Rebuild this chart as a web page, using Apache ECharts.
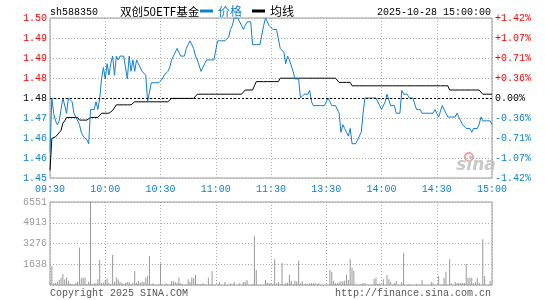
<!DOCTYPE html>
<html>
<head>
<meta charset="utf-8">
<script src="https://cdn.jsdelivr.net/npm/echarts@6/dist/echarts.min.js"></script>
<style>
  html, body { margin: 0; padding: 0; background: #fff; }
  #chart { width: 545px; height: 300px; }
</style>
</head>
<body>
<div id="chart"></div>
<script>
// sh588350 intraday, 2025-10-28
var basePrice = 1.475;

var timeLabels = ['09:30', '10:00', '10:30', '11:00', '11:30', '13:30', '14:00', '14:30', '15:00'];
var priceTicks = ['1.45', '1.46', '1.46', '1.47', '1.48', '1.48', '1.49', '1.49', '1.50'];
var pctTicks = ['-1.42%', '-1.07%', '-0.71%', '-0.36%', '0.00%', '+0.36%', '+0.71%', '+1.07%', '+1.42%'];
var volTicks = ['', '1638', '3276', '4913', '6551'];

var price = [
  1.461, 1.475, 1.471, 1.469, 1.468, 1.469, 1.472, 1.475, 1.475, 1.471,
  1.475, 1.475, 1.474, 1.471, 1.470, 1.470, 1.468, 1.466, 1.465, 1.465,
  1.464, 1.463, 1.472, 1.472, 1.472, 1.474, 1.472, 1.475, 1.480, 1.483,
  1.480, 1.484, 1.481, 1.484, 1.486, 1.481, 1.486, 1.485, 1.486, 1.486,
  1.486, 1.486, 1.480, 1.486, 1.482, 1.485, 1.482, 1.485, 1.484, 1.484,
  1.482, 1.482, 1.481, 1.474, 1.474, 1.479, 1.479, 1.479, 1.479, 1.479,
  1.479, 1.480, 1.481, 1.481, 1.482, 1.483, 1.485, 1.486, 1.486, 1.488,
  1.487, 1.486, 1.486, 1.486, 1.488, 1.489, 1.490, 1.490, 1.488, 1.486,
  1.485, 1.485, 1.482, 1.482, 1.484, 1.485, 1.485, 1.485, 1.485, 1.485,
  1.485, 1.490, 1.490, 1.490, 1.490, 1.490, 1.490, 1.491, 1.493, 1.494,
  1.496, 1.496, 1.496, 1.496, 1.494, 1.493, 1.494, 1.495, 1.495, 1.495,
  1.489, 1.489, 1.489, 1.489, 1.489, 1.489, 1.494, 1.496, 1.496, 1.494,
  1.494, 1.493, 1.493, 1.493, 1.493, 1.488, 1.488, 1.487, 1.484, 1.486,
  1.485, 1.485, 1.482, 1.480, 1.480, 1.480, 1.475, 1.475, 1.476, 1.476,
  1.476, 1.477, 1.474, 1.473, 1.473, 1.473, 1.473, 1.473, 1.473, 1.473,
  1.473, 1.475, 1.474, 1.473, 1.473, 1.473, 1.473, 1.471, 1.466, 1.468,
  1.467, 1.466, 1.465, 1.467, 1.463, 1.463, 1.463, 1.463, 1.465, 1.466,
  1.471, 1.475, 1.475, 1.475, 1.475, 1.475, 1.475, 1.475, 1.475, 1.473,
  1.472, 1.472, 1.474, 1.476, 1.476, 1.473, 1.473, 1.473, 1.471, 1.471,
  1.471, 1.477, 1.476, 1.476, 1.476, 1.475, 1.475, 1.475, 1.475, 1.472,
  1.472, 1.472, 1.471, 1.471, 1.471, 1.471, 1.471, 1.471, 1.471, 1.472,
  1.472, 1.470, 1.470, 1.473, 1.473, 1.471, 1.470, 1.470, 1.470, 1.470,
  1.470, 1.471, 1.471, 1.469, 1.468, 1.468, 1.467, 1.467, 1.467, 1.466,
  1.467, 1.467, 1.467, 1.468, 1.470, 1.469, 1.469, 1.469, 1.469, 1.469,
  1.468
];

var avgPrice = [
  1.4560, 1.4644, 1.4648, 1.4648, 1.4650, 1.4659, 1.4665, 1.4684, 1.4690, 1.4699,
  1.4699, 1.4699, 1.4699, 1.4699, 1.4699, 1.4699, 1.4692, 1.4692, 1.4692, 1.4692,
  1.4692, 1.4692, 1.4699, 1.4699, 1.4699, 1.4699, 1.4699, 1.4699, 1.4710, 1.4710,
  1.4710, 1.4710, 1.4710, 1.4710, 1.4717, 1.4722, 1.4732, 1.4732, 1.4732, 1.4732,
  1.4732, 1.4732, 1.4732, 1.4732, 1.4732, 1.4732, 1.4740, 1.4740, 1.4740, 1.4740,
  1.4740, 1.4740, 1.4740, 1.4740, 1.4740, 1.4740, 1.4740, 1.4740, 1.4740, 1.4740,
  1.4740, 1.4740, 1.4740, 1.4740, 1.4740, 1.4740, 1.4749, 1.4749, 1.4749, 1.4749,
  1.4749, 1.4749, 1.4749, 1.4749, 1.4749, 1.4749, 1.4749, 1.4749, 1.4749, 1.4749,
  1.4760, 1.4760, 1.4760, 1.4760, 1.4760, 1.4760, 1.4760, 1.4760, 1.4760, 1.4760,
  1.4760, 1.4760, 1.4760, 1.4760, 1.4760, 1.4760, 1.4760, 1.4760, 1.4760, 1.4760,
  1.4760, 1.4760, 1.4760, 1.4760, 1.4760, 1.4760, 1.4771, 1.4771, 1.4771, 1.4771,
  1.4771, 1.4782, 1.4793, 1.4793, 1.4793, 1.4793, 1.4793, 1.4793, 1.4793, 1.4793,
  1.4793, 1.4793, 1.4793, 1.4793, 1.4793, 1.4802, 1.4802, 1.4802, 1.4802, 1.4802,
  1.4802, 1.4802, 1.4802, 1.4802, 1.4802, 1.4802, 1.4802, 1.4802, 1.4802, 1.4802,
  1.4802, 1.4802, 1.4802, 1.4802, 1.4802, 1.4802, 1.4802, 1.4802, 1.4802, 1.4802,
  1.4802, 1.4802, 1.4802, 1.4802, 1.4802, 1.4802, 1.4802, 1.4791, 1.4791, 1.4791,
  1.4791, 1.4791, 1.4791, 1.4791, 1.4782, 1.4782, 1.4782, 1.4782, 1.4782, 1.4782,
  1.4782, 1.4782, 1.4782, 1.4782, 1.4782, 1.4782, 1.4782, 1.4782, 1.4782, 1.4782,
  1.4782, 1.4782, 1.4782, 1.4782, 1.4782, 1.4782, 1.4782, 1.4782, 1.4782, 1.4782,
  1.4782, 1.4782, 1.4782, 1.4782, 1.4782, 1.4782, 1.4782, 1.4782, 1.4782, 1.4782,
  1.4782, 1.4782, 1.4782, 1.4782, 1.4782, 1.4782, 1.4782, 1.4782, 1.4782, 1.4782,
  1.4782, 1.4782, 1.4782, 1.4782, 1.4782, 1.4782, 1.4782, 1.4771, 1.4771, 1.4771,
  1.4771, 1.4771, 1.4771, 1.4771, 1.4771, 1.4771, 1.4771, 1.4771, 1.4771, 1.4771,
  1.4771, 1.4771, 1.4771, 1.4771, 1.4771, 1.4760, 1.4760, 1.4760, 1.4760, 1.4760,
  1.4760
];

var volume = [
  183, 1494, 131, 183, 262, 393, 600, 865, 445, 600,
  340, 131, 50, 50, 183, 262, 2960, 524, 600, 600,
  50, 262, 6551, 50, 131, 131, 445, 1965, 183, 183,
  393, 524, 183, 50, 2358, 262, 600, 445, 262, 183,
  50, 183, 236, 236, 50, 183, 1100, 183, 340, 183,
  262, 236, 600, 707, 2280, 50, 131, 0, 0, 50,
  1703, 79, 0, 131, 0, 50, 288, 288, 236, 183,
  600, 131, 79, 0, 50, 445, 262, 600, 524, 786,
  50, 79, 79, 131, 50, 0, 600, 50, 1100, 0,
  0, 0, 236, 0, 0, 236, 0, 0, 131, 0,
  236, 0, 0, 131, 0, 236, 262, 393, 0, 0,
  50, 3850, 1180, 0, 0, 0, 0, 393, 183, 131,
  131, 50, 2040, 131, 236, 50, 1755, 50, 131, 183,
  786, 340, 50, 340, 288, 1913, 131, 288, 50, 131,
  50, 131, 131, 131, 131, 79, 131, 0, 0, 0,
  0, 0, 1180, 1048, 340, 131, 131, 210, 288, 288,
  340, 786, 393, 2040, 1362, 1127, 50, 0, 0, 79,
  131, 131, 0, 0, 0, 0, 472, 600, 79, 131,
  0, 445, 0, 786, 445, 262, 0, 131, 314, 0,
  0, 236, 2541, 0, 0, 79, 0, 0, 0, 79,
  0, 0, 393, 0, 0, 0, 0, 236, 131, 0,
  0, 707, 0, 0, 576, 1048, 0, 2040, 131, 0,
  236, 131, 157, 157, 157, 157, 1650, 576, 576, 576,
  131, 236, 576, 183, 0, 3615, 707, 0, 0, 340,
  0
];

var BLUE = '#0f7fcf';
var RED = '#ff0000';
var MONO = '"Liberation Mono", "DejaVu Sans Mono", monospace';
var CJK = '"Noto Sans CJK SC", sans-serif';

// y axis of the price panel is in thousandths of a yuan from the previous close
function toOffset(p) {
  return Math.round((p - basePrice) * 100000) / 100;
}
var priceData = price.map(function(p, i) { return [i, toOffset(p)]; });
var avgData = avgPrice.map(function(p, i) { return [i, toOffset(p)]; });
var volData = volume.map(function(v, i) { return [i, v]; });

var yMin = -21, yMax = 21, yStep = 5.25;
function tickIndex(v) {
  return Math.round((v - yMin) / yStep);
}
function tagFor(idx) {
  return idx < 4 ? 'dn' : (idx > 4 ? 'up' : 'eq');
}
var labelRich = {
  up: { color: RED, fontFamily: MONO, fontSize: 10 },
  dn: { color: BLUE, fontFamily: MONO, fontSize: 10 },
  eq: { color: '#000', fontFamily: MONO, fontSize: 10 }
};
var dotted = { color: '#aaa', type: [1, 2], width: 1 };

var myChart = echarts.init(document.getElementById('chart'));

var option = {
  animation: false,
  grid: [
    { left: 50, top: 18, width: 442, height: 160, show: true, borderColor: '#999', borderWidth: 1, backgroundColor: 'transparent' },
    { left: 50, top: 202, width: 442, height: 83, show: true, borderColor: '#999', borderWidth: 1, backgroundColor: 'transparent' }
  ],
  legend: {
    left: 200,
    top: 5,
    padding: 0,
    icon: 'rect',
    itemWidth: 13,
    itemHeight: 3,
    itemGap: 10,
    textStyle: { fontFamily: CJK, fontSize: 12 },
    data: [
      { name: '价格', textStyle: { color: BLUE } },
      { name: '均线', textStyle: { color: '#000' } }
    ]
  },
  xAxis: [
    {
      type: 'value', gridIndex: 0, min: 0, max: 240, interval: 30,
      axisLine: { show: false }, axisTick: { show: false },
      splitLine: { show: true, lineStyle: dotted },
      axisLabel: {
        color: BLUE, fontFamily: MONO, fontSize: 10, margin: 6,
        showMinLabel: true, showMaxLabel: true,
        formatter: function(v) { return timeLabels[Math.round(v / 30)]; }
      }
    },
    {
      type: 'value', gridIndex: 1, min: 0, max: 240, interval: 30,
      axisLine: { show: false }, axisTick: { show: false },
      splitLine: { show: true, lineStyle: dotted },
      axisLabel: { show: false }
    }
  ],
  yAxis: [
    {
      type: 'value', gridIndex: 0, position: 'left', min: yMin, max: yMax, interval: yStep,
      axisLine: { show: false }, axisTick: { show: false },
      splitLine: { show: true, lineStyle: dotted },
      axisLabel: {
        margin: 3, rich: labelRich,
        formatter: function(v) {
          var idx = tickIndex(v);
          return '{' + tagFor(idx) + '|' + priceTicks[idx] + '}';
        }
      }
    },
    {
      type: 'value', gridIndex: 0, position: 'right', min: yMin, max: yMax, interval: yStep,
      axisLine: { show: false }, axisTick: { show: false },
      splitLine: { show: false },
      axisLabel: {
        margin: 3, rich: labelRich,
        formatter: function(v) {
          var idx = tickIndex(v);
          return '{' + tagFor(idx) + '|' + pctTicks[idx] + '}';
        }
      }
    },
    {
      type: 'value', gridIndex: 1, position: 'left', min: 0, max: 6551, interval: 1637.75,
      axisLine: { show: false }, axisTick: { show: false },
      splitLine: { show: true, lineStyle: dotted },
      axisLabel: {
        margin: 3, color: '#999', fontFamily: MONO, fontSize: 10,
        formatter: function(v) { return volTicks[Math.round(v / 1637.75)]; }
      }
    }
  ],
  series: [
    {
      name: '均线', type: 'line', xAxisIndex: 0, yAxisIndex: 0,
      data: avgData, symbol: 'none', silent: true,
      itemStyle: { color: '#000' },
      lineStyle: { color: '#000', width: 1 }
    },
    {
      name: '价格', type: 'line', xAxisIndex: 0, yAxisIndex: 0,
      data: priceData, symbol: 'none', silent: true,
      itemStyle: { color: BLUE },
      lineStyle: { color: BLUE, width: 1 },
      markLine: {
        silent: true, symbol: ['none', 'none'], label: { show: false },
        lineStyle: { color: '#000', type: [2, 2], width: 1 },
        data: [{ yAxis: 0 }]
      }
    },
    {
      name: 'vol', type: 'bar', xAxisIndex: 1, yAxisIndex: 2,
      data: volData, barWidth: 1, silent: true,
      itemStyle: { color: '#999' }
    }
  ],
  graphic: [
    { type: 'text', style: { x: 50, y: 12, text: 'sh588350', font: '10px ' + MONO, fill: '#000', align: 'left', verticalAlign: 'middle' } },
    { type: 'text', style: { x: 120, y: 12, text: '双创50ETF基金', font: '11.6px ' + CJK, fill: '#000', align: 'left', verticalAlign: 'middle' } },
    { type: 'text', style: { x: 491, y: 12, text: '2025-10-28 15:00:00', font: '10px ' + MONO, fill: '#000', align: 'right', verticalAlign: 'middle' } },
    { type: 'text', style: { x: 50, y: 293, text: 'Copyright 2025 SINA.COM', font: '10px ' + MONO, fill: '#555', align: 'left', verticalAlign: 'middle' } },
    { type: 'text', style: { x: 491, y: 293, text: 'http://finance.sina.com.cn', font: '10px ' + MONO, fill: '#555', align: 'right', verticalAlign: 'middle' } },
    // sina watermark
    { type: 'circle', shape: { cx: 469, cy: 157, r: 4 }, style: { fill: 'none', stroke: '#f2a0a0', lineWidth: 2 }, z: 0 },
    { type: 'text', style: { x: 476, y: 166, text: 'sina', font: 'italic bold 17px "DejaVu Sans", sans-serif', fill: '#c8c8c8', align: 'center', verticalAlign: 'middle' }, z: 0 }
  ]
};

myChart.setOption(option);
</script>
</body>
</html>
